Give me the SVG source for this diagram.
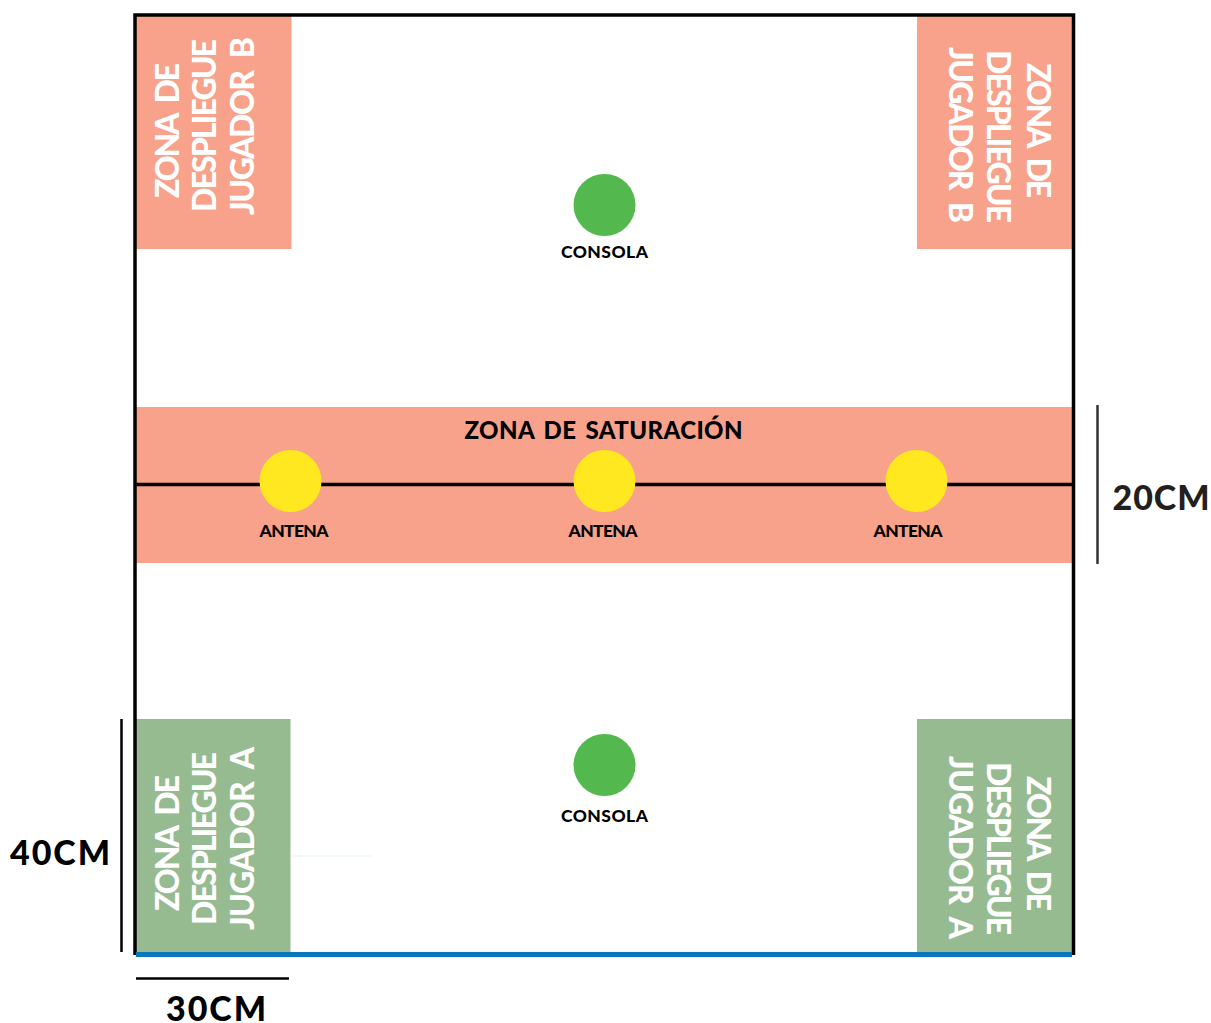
<svg xmlns="http://www.w3.org/2000/svg" width="1211" height="1023" viewBox="0 0 1211 1023">
<style>
text{font-family:"Lato","Open Sans","Liberation Sans",sans-serif;font-weight:900}
.z{fill:#fff;font-size:32px;word-spacing:7px}
.s{fill:#000;font-size:17.500px;text-anchor:middle}
.d{fill:#000;font-size:34px;text-anchor:middle}
.red{fill:#f8a28b}.grn{fill:#97bb91}
.ant{fill:#ffe81f}.con{fill:#53b94f}
.l{stroke:#000;fill:none}
</style>
<rect width="1211" height="1023" fill="#fff"/>
<g id="zona-saturacion"><rect class="red" x="136" y="407" width="937" height="156"/><text x="603.500" y="439" style="font-size:24px;word-spacing:3px" text-anchor="middle" textLength="278">ZONA DE SATURACIÓN</text></g>
<g id="zona-b-izq"><rect class="red" x="136" y="16" width="155.500" height="233"/>
<text class="z" transform="translate(179,198) rotate(-90)" textLength="135">ZONA DE</text>
<text class="z" transform="translate(216,212) rotate(-90)" textLength="173">DESPLIEGUE</text>
<text class="z" transform="translate(254,215) rotate(-90)" textLength="178">JUGADOR B</text></g>
<g id="zona-b-der"><rect class="red" x="917" y="16" width="156" height="233"/>
<text class="z" transform="translate(1027,63) rotate(90)" textLength="135">ZONA DE</text>
<text class="z" transform="translate(987,50) rotate(90)" textLength="173">DESPLIEGUE</text>
<text class="z" transform="translate(949,47) rotate(90)" textLength="176">JUGADOR B</text></g>
<g id="zona-a-izq"><rect class="grn" x="136" y="719" width="154.500" height="233"/>
<text class="z" transform="translate(179,911) rotate(-90)" textLength="136">ZONA DE</text>
<text class="z" transform="translate(216,925) rotate(-90)" textLength="173">DESPLIEGUE</text>
<text class="z" transform="translate(254,930) rotate(-90)" textLength="183">JUGADOR A</text></g>
<g id="zona-a-der"><rect class="grn" x="917" y="719" width="156" height="233"/>
<text class="z" transform="translate(1027,776) rotate(90)" textLength="135">ZONA DE</text>
<text class="z" transform="translate(987,762) rotate(90)" textLength="173">DESPLIEGUE</text>
<text class="z" transform="translate(949,756) rotate(90)" textLength="183">JUGADOR A</text></g>
<g id="connectors">
<path class="l" stroke-width="3.500" d="M135 955V15H1073.500V955"/>
<path class="l" stroke-width="3.500" d="M136 484.500H1073"/>
<path d="M136 954.500H1072" stroke="#0a76bd" stroke-width="5" fill="none"/>
<path class="l" stroke-width="2.500" d="M121.500 719V952"/>
<path class="l" stroke-width="2.500" d="M136 978.500H289"/>
<path stroke="#333" stroke-width="2.500" fill="none" d="M1097.500 405V564"/>
<path stroke="#e6f5f5" stroke-width="1" fill="none" d="M293 856H371"/>
</g>
<g id="consola-1"><circle class="con" cx="604.500" cy="205" r="31"/><text class="s" x="604.500" y="257.500" textLength="87">CONSOLA</text></g>
<g id="consola-2"><circle class="con" cx="604.500" cy="765" r="31"/><text class="s" x="604.500" y="822" textLength="87">CONSOLA</text></g>
<g id="antena-1"><circle class="ant" cx="290.500" cy="481" r="31"/><text class="s" x="294" y="537" textLength="69">ANTENA</text></g>
<g id="antena-2"><circle class="ant" cx="604.500" cy="481" r="31"/><text class="s" x="603" y="537" textLength="69">ANTENA</text></g>
<g id="antena-3"><circle class="ant" cx="916.500" cy="481" r="31"/><text class="s" x="908" y="537" textLength="69">ANTENA</text></g>
<text class="d" x="60" y="865" textLength="100">40CM</text>
<text class="d" x="216" y="1021" textLength="100">30CM</text>
<text class="d" x="1161" y="510" style="fill:#231f20" textLength="97">20CM</text>
</svg>
